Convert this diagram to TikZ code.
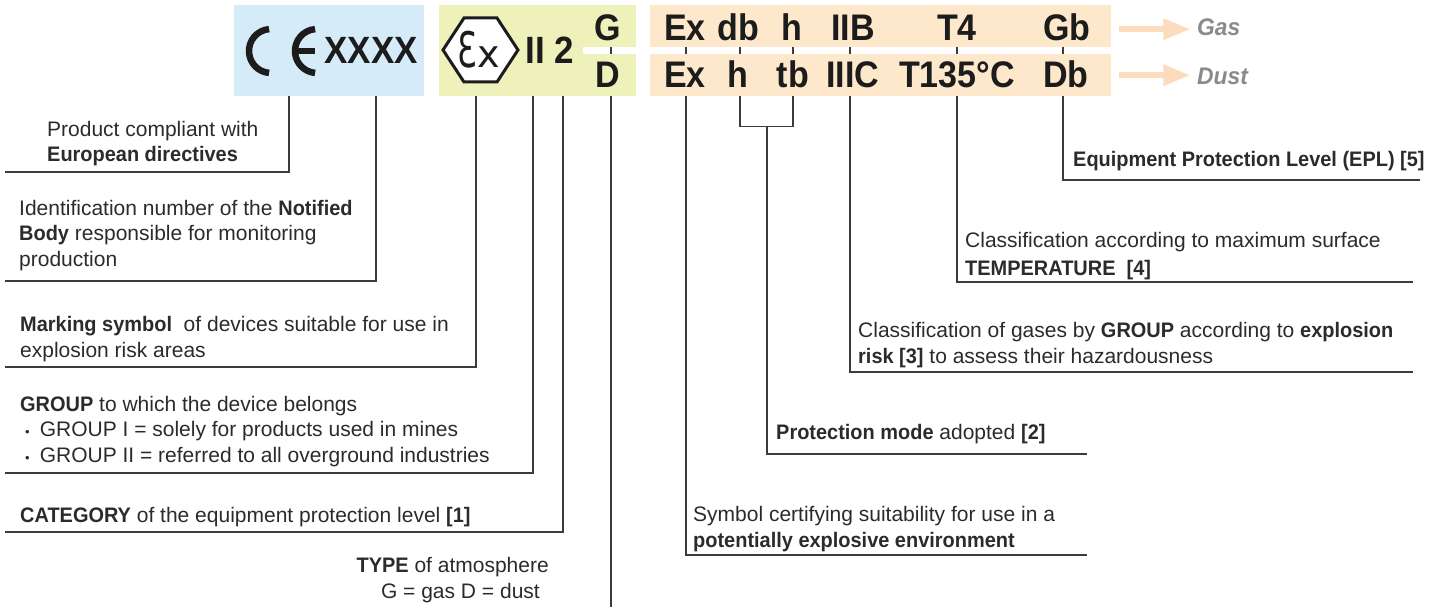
\documentclass[tikz,border=0pt]{standalone}
\usepackage{fontspec}
\setmainfont{Liberation Sans}[BoldFeatures={FakeStretch=0.95}, BoldItalicFeatures={FakeStretch=0.95}]
\newfontfamily\markfont[FakeStretch=0.92]{Liberation Sans}
\newfontfamily\exfont{DejaVu Sans}
\usetikzlibrary{arrows.meta}

\definecolor{ceblue}{HTML}{D5EBF8}
\definecolor{exyellow}{HTML}{EEF1B9}
\definecolor{eplorange}{HTML}{FDE8CB}
\definecolor{arroworange}{HTML}{FDDCBD}
\definecolor{leadgray}{HTML}{3C3C3C}
\definecolor{inkgray}{HTML}{2B2B2B}
\definecolor{markink}{HTML}{1C1C1C}
\definecolor{atmgray}{HTML}{8A8A8A}

\newcommand{\dotitem}{\hspace*{5pt}{\fontsize{13}{13}\selectfont •}\hspace*{10pt}}

\begin{document}
\begin{tikzpicture}[x=1pt, y=-1pt,
    lead/.style={leadgray, line width=1.3pt},
    notetext/.style={anchor=base west, align=left, inner sep=0pt, text=inkgray, font=\fontsize{21}{25.5}\selectfont},
    marktext/.style={anchor=base, inner sep=0pt, text=markink, font=\markfont\bfseries\fontsize{37}{37}\selectfont},
    atmtext/.style={anchor=base west, inner sep=0pt, text=atmgray, font=\bfseries\itshape\fontsize{24}{24}\selectfont},
    atmarrow/.style={arroworange, line width=6pt, -{Triangle[length=27pt, width=20pt]}}]
  \useasboundingbox (0,0) rectangle (1438,607);

  % marking boxes
  \node[fill=ceblue, anchor=north west, inner sep=0pt, minimum width=190pt, minimum height=91pt] (cebox) at (234,5) {};
  \node[fill=exyellow, anchor=north west, inner sep=0pt, minimum width=197pt, minimum height=91pt] (exbox) at (439,5) {};
  \fill[white] (583,47) rectangle (636,54);
  \node[fill=eplorange, anchor=north west, inner sep=0pt, minimum width=461pt, minimum height=42pt] (gasbar) at (650,5) {};
  \node[fill=eplorange, anchor=north west, inner sep=0pt, minimum width=461pt, minimum height=42pt] (dustbar) at (650,54) {};

  % CE mark and number
  \draw[markink, line width=6.5pt] (271,51) ++(95:22pt) arc[start angle=95, end angle=265, radius=22pt];
  \draw[markink, line width=6.5pt] (317,51) ++(95:22pt) arc[start angle=95, end angle=265, radius=22pt];
  \draw[markink, line width=6pt] (297,51) -- (315,51);
  \node[marktext, font=\markfont\bfseries\fontsize{38}{38}\selectfont] (xxxx) at (371,64) {XXXX};

  % Ex hexagon, group, category, atmosphere
  \draw[markink, fill=white, line width=3pt] (443,50) -- (464,18) -- (497,18) -- (518,50) -- (497,82) -- (464,82) -- cycle;
  \node[anchor=base, inner sep=0pt, text=markink] (exsign) at (479,68)
    {\scalebox{0.65}[1]{\exfont\fontsize{49}{49}\selectfont Ɛ}\exfont\fontsize{38}{38}\selectfont x};
  \node[marktext, font=\markfont\bfseries\fontsize{38}{38}\selectfont] (groupcat) at (550,64) {II 2};
  \node[marktext] (atmg) at (608,41) {G};
  \node[marktext] (atmd) at (608,88) {D};

  % gas and dust rows
  \foreach \code/\cx [count=\i] in {Ex/685, db/738, h/792, IIB/853, T4/957, Gb/1067}
    \node[marktext] (gas\i) at (\cx,41) {\code};
  \foreach \code/\cx [count=\i] in {Ex/685, h/738, tb/793, IIIC/853, T135°C/957, Db/1066}
    \node[marktext] (dust\i) at (\cx,88) {\code};

  \node[atmtext] (gaslabel) at (1197,36) {Gas};
  \node[atmtext] (dustlabel) at (1197,85) {Dust};
  \draw[atmarrow] (gasbar.east) ++(8,3) -- ++(71,0);
  \draw[atmarrow] (dustbar.east) ++(8,0) -- ++(71,0);

  % notes (anchored at the baseline of their last line)
  \node[notetext] (cetext) at (47,162) {Product compliant with\\\textbf{European directives}};
  \node[notetext] (nbtext) at (19,266) {Identification number of the \textbf{Notified}\\\textbf{Body} responsible for monitoring\\production};
  \node[notetext] (mstext) at (20,357) {\textbf{Marking symbol}\ \ of devices suitable for use in\\explosion risk areas};
  \node[notetext] (grtext) at (20,462) {\textbf{GROUP} to which the device belongs\\\dotitem GROUP I = solely for products used in mines\\\dotitem GROUP II = referred to all overground industries};
  \node[notetext] (cattext) at (20,522) {\textbf{CATEGORY} of the equipment protection level \textbf{[1]}};
  \node[notetext, anchor=base east, align=right] (typetext) at (549,598) {\textbf{TYPE} of atmosphere\\G = gas D = dust\hspace*{9pt}};
  \node[notetext] (epltext) at (1073,167) {\textbf{Equipment Protection Level (EPL) [5]}};
  \node[notetext] (temptext) at (965,275) {Classification according to maximum surface\\[2.5pt]\textbf{TEMPERATURE\ \ [4]}};
  \node[notetext] (gastext) at (858,363) {Classification of gases by \textbf{GROUP} according to \textbf{explosion}\\\textbf{risk [3]} to assess their hazardousness};
  \node[notetext] (modetext) at (776,439) {\textbf{Protection mode} adopted \textbf{[2]}};
  \node[notetext] (symtext) at (693,547) {Symbol certifying suitability for use in a\\\textbf{potentially explosive environment}};

  % ends of the leads
  \coordinate (ceend) at (5,172);
  \coordinate (nbend) at (5,281);
  \coordinate (msend) at (5,367);
  \coordinate (grend) at (5,473);
  \coordinate (catend) at (5,532);
  \coordinate (typeend) at (611,607);
  \coordinate (eplend) at (1420,180);
  \coordinate (tempend) at (1413,282);
  \coordinate (gasend) at (1413,372);
  \coordinate (modeend) at (1087,454);
  \coordinate (symend) at (1087,555);
  \coordinate (bracket) at (767,126);

  % leads
  \draw[lead] ([xshift=55pt]cebox.south west) |- (ceend);
  \draw[lead] ([xshift=142pt]cebox.south west) |- (nbend);
  \draw[lead] ([xshift=37pt]exbox.south west) |- (msend);
  \draw[lead] ([xshift=94pt]exbox.south west) |- (grend);
  \draw[lead] ([xshift=124pt]exbox.south west) |- (catend);
  \draw[lead] ([xshift=172pt]exbox.south west) -- (typeend);
  \draw[lead] (611,47) -- (611,54);
  \foreach \lx in {36,90,143,200,307,413}
    \draw[lead] ([xshift=\lx pt]gasbar.south west) -- ([xshift=\lx pt]dustbar.north west);
  \draw[lead] ([xshift=36pt]dustbar.south west) |- (symend);
  \draw[lead] ([xshift=90pt]dustbar.south west) -- ++(0,30) -| ([xshift=143pt]dustbar.south west);
  \draw[lead] (bracket) |- (modeend);
  \draw[lead] ([xshift=200pt]dustbar.south west) |- (gasend);
  \draw[lead] ([xshift=307pt]dustbar.south west) |- (tempend);
  \draw[lead] ([xshift=413pt]dustbar.south west) |- (eplend);
\end{tikzpicture}
\end{document}
